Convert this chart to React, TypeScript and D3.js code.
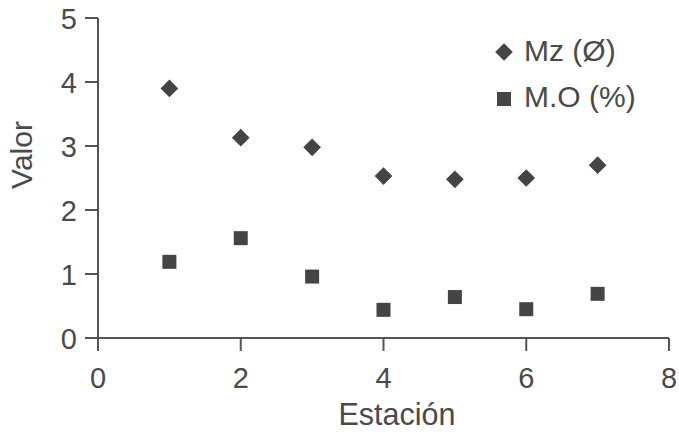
import React from "react";
import * as d3 from "d3";

const estaciones = [1, 2, 3, 4, 5, 6, 7];
const mzValues = [3.9, 3.13, 2.98, 2.53, 2.48, 2.5, 2.7];
const moValues = [1.19, 1.56, 0.96, 0.44, 0.64, 0.45, 0.69];
const xTicks = [0, 2, 4, 6, 8];
const yTicks = [0, 1, 2, 3, 4, 5];
const seriesNames = ["Mz (Ø)", "M.O (%)"];

const W = 679;
const H = 433;
const color = "#4a4a4a";
const axisColor = "#555555";
const font = "'Liberation Sans', Arial, Helvetica, sans-serif";

export default function App() {
  const x = d3.scaleLinear().domain([0, 8]).range([98, 669]);
  const y = d3.scaleLinear().domain([0, 5]).range([338, 18]);
  const diamond = d3.symbol().type(d3.symbolDiamond2).size(200)();
  const sq = 14;

  return (
    <svg width={W} height={H} style={{ position: "absolute", left: 0, top: 0, background: "#fff" }}>
      <rect width={W} height={H} fill="#fff" />
      {/* axes */}
      <line x1={x(0)} x2={x(0)} y1={y(5)} y2={y(0) + 13} stroke={axisColor} strokeWidth={2} />
      <line x1={x(0) - 13} x2={x(8)} y1={y(0)} y2={y(0)} stroke={axisColor} strokeWidth={2} />
      {yTicks.map((t) => (
        <g key={"y" + t}>
          <line x1={x(0) - 13} x2={x(0)} y1={y(t)} y2={y(t)} stroke={axisColor} strokeWidth={2} />
          <text x={77} y={y(t) + 10.5} textAnchor="end" fontSize={29} fontFamily={font} fill={color}>
            {t}
          </text>
        </g>
      ))}
      {xTicks.map((t) => (
        <g key={"x" + t}>
          <line x1={x(t)} x2={x(t)} y1={y(0)} y2={y(0) + 13} stroke={axisColor} strokeWidth={2} />
          <text x={x(t)} y={388} textAnchor="middle" fontSize={29} fontFamily={font} fill={color}>
            {t}
          </text>
        </g>
      ))}
      <text x={397} y={425} textAnchor="middle" fontSize={30.5} fontFamily={font} fill={color}>
        Estación
      </text>
      <text transform={`translate(32,155) rotate(-90)`} textAnchor="middle" fontSize={30} fontFamily={font} fill={color}>
        Valor
      </text>
      {/* data */}
      {estaciones.map((e, i) => (
        <path key={"mz" + i} d={diamond} transform={`translate(${x(e)},${y(mzValues[i])})`} fill="#444444" />
      ))}
      {estaciones.map((e, i) => (
        <rect key={"mo" + i} x={x(e) - sq / 2} y={y(moValues[i]) - sq / 2} width={sq} height={sq} fill="#444444" />
      ))}
      {/* legend */}
      <path d={diamond} transform="translate(504,52)" fill="#444444" />
      <text x={524} y={61} fontSize={30} fontFamily={font} fill={color}>
        {seriesNames[0]}
      </text>
      <rect x={504 - sq / 2} y={99 - sq / 2} width={sq} height={sq} fill="#444444" />
      <text x={524} y={107} fontSize={30} fontFamily={font} fill={color}>
        {seriesNames[1]}
      </text>
    </svg>
  );
}
